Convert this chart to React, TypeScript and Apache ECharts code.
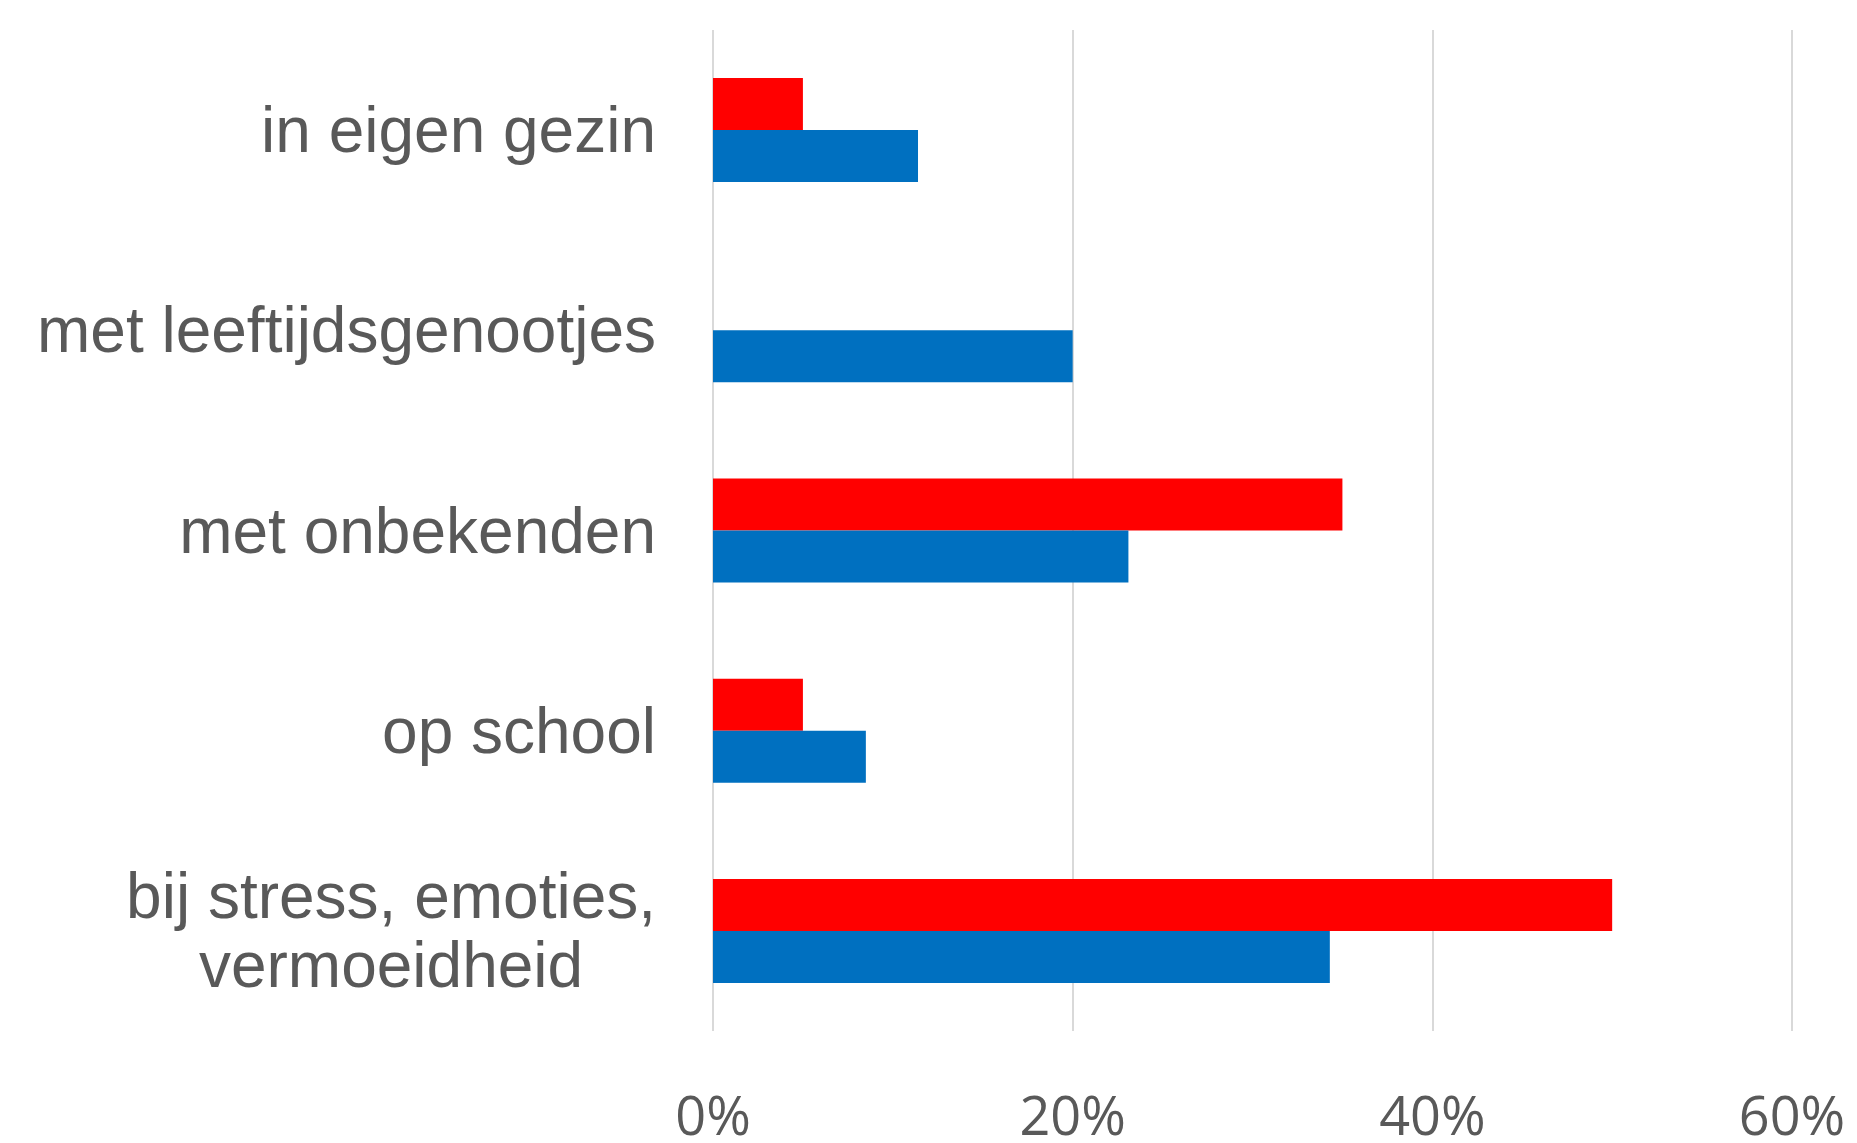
import React, { useEffect, useRef } from "react";
import * as echarts from "echarts";

const categories = [
  "in eigen gezin",
  "met leeftijdsgenootjes",
  "met onbekenden",
  "op school",
  "bij stress, emoties, vermoeidheid",
];
const redValues: (number | null)[] = [5, null, 35, 5, 50];
const blueValues: number[] = [11.4, 20, 23.1, 8.5, 34.3];
const xTicks = { min: 0, max: 60, interval: 20 };

export default function App() {
  const ref = useRef<HTMLDivElement>(null);
  useEffect(() => {
    if (!ref.current) return;
    const chart = echarts.init(ref.current, undefined, { renderer: "svg" });
    const labelFont = "'Liberation Sans', Arial, sans-serif";
    chart.setOption({
      animation: false,
      backgroundColor: "#ffffff",
      grid: { left: 713, right: 65, top: 30, bottom: 112, containLabel: false },
      xAxis: {
        type: "value",
        min: xTicks.min,
        max: xTicks.max,
        interval: xTicks.interval,
        axisLine: { show: false },
        axisTick: { show: false },
        splitLine: { show: true, lineStyle: { color: "#d9d9d9", width: 2 } },
        axisLabel: {
          formatter: "{value}%",
          fontFamily: "'Open Sans', sans-serif",
          fontSize: 54,
          lineHeight: 54,
          color: "#595959",
          margin: 56,
        },
      },
      yAxis: {
        type: "category",
        data: categories,
        inverse: true,
        axisLine: { show: false },
        axisTick: { show: false },
        splitLine: { show: false },
        axisLabel: {
          margin: 57,
          fontFamily: labelFont,
          fontSize: 64,
          color: "#595959",
          formatter: (v: string) => {
            if (v === "bij stress, emoties, vermoeidheid") {
              return "{c|bij stress, emoties,}\n{c|vermoeidheid}";
            }
            return v;
          },
          rich: {
            c: {
              align: "center",
              fontFamily: labelFont,
              fontSize: 64,
              color: "#595959",
              lineHeight: 69,
            },
          },
        },
      },
      series: [
        {
          name: "rood",
          type: "bar",
          data: redValues,
          barWidth: 52,
          barGap: "0%",
          itemStyle: { color: "#ff0000" },
        },
        {
          name: "blauw",
          type: "bar",
          data: blueValues,
          barWidth: 52,
          barGap: "0%",
          itemStyle: { color: "#0070c0" },
        },
      ],
    });
    return () => chart.dispose();
  }, []);
  return (
    <div
      ref={ref}
      style={{ position: "fixed", left: 0, top: 0, width: 1857, height: 1143 }}
    />
  );
}
